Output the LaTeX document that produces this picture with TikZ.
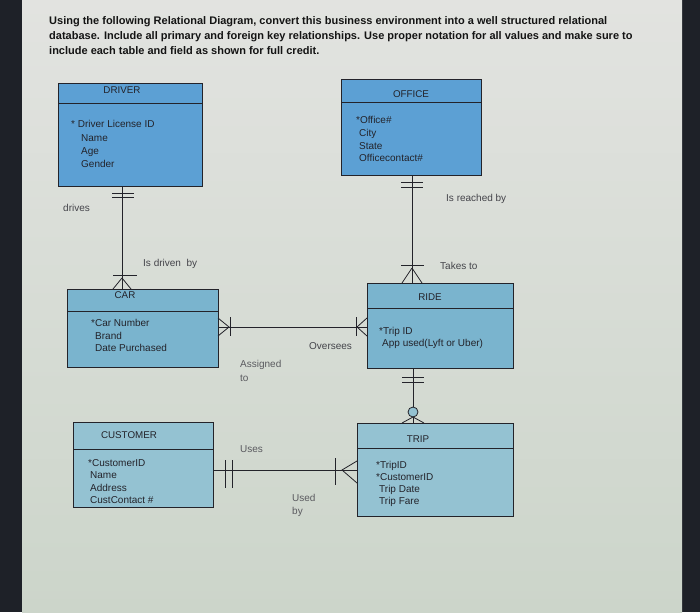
\documentclass[tikz,border=0pt]{standalone}
\usepackage{fontspec}
\setmainfont{Liberation Sans}
\definecolor{bezel}{RGB}{30,33,40}
\definecolor{scrtop}{RGB}{226,227,224}
\definecolor{scrbot}{RGB}{204,213,202}
\definecolor{drvblue}{RGB}{92,160,212}
\definecolor{carblue}{RGB}{122,180,206}
\definecolor{custblue}{RGB}{148,194,210}
\definecolor{ink}{RGB}{35,35,42}
\tikzset{
  entity/.style={draw=ink, line width=1pt, anchor=north west, inner sep=0pt},
  ttl/.style={font=\fontsize{9.8}{11}\selectfont, text=ink, inner sep=0pt},
  attrs/.style={font=\fontsize{10}{#1}\selectfont, text=ink, align=left, anchor=north west, inner sep=0pt},
  lbl/.style={font=\fontsize{10}{13.5}\selectfont, text=ink!85, align=left, anchor=west, inner sep=0pt},
  hdr/.style={font=\fontsize{11}{13}\selectfont\bfseries, text=black!92, anchor=base west, inner sep=0pt},
  rel/.style={draw=ink, line width=0.7pt},
  tick/.style={draw=ink, line width=0.8pt}
}
\begin{document}
\begin{tikzpicture}[x=1pt,y=-1pt]
\useasboundingbox (0,0) rectangle (700,612);
\fill[bezel] (0,0) rectangle (700,612);
\shade[top color=scrtop, bottom color=scrbot] (22,0) rectangle (682,612);

% header text
\node[hdr] (h1) at (49,25) {Using the following Relational Diagram, convert this business environment into a well structured relational};
\node[hdr] (h2) at (49,40) {database. Include all primary and foreign key relationships. Use proper notation for all values and make sure to};
\node[hdr] (h3) at (49,55) {include each table and field as shown for full credit.};

% entities
\node[entity, fill=drvblue, minimum width=144pt, minimum height=103pt] (driver) at (58,83) {};
\draw[tick] ([yshift=-20pt]driver.north west) -- ([yshift=-20pt]driver.north east);
\node[ttl] (driverT) at (122,90) {DRIVER};
\node[attrs=13.3] (driverA) at (71,120.4) {* Driver License ID\\ \hspace*{10pt}Name\\ \hspace*{10pt}Age\\ \hspace*{10pt}Gender};

\node[entity, fill=drvblue, minimum width=140pt, minimum height=96pt] (office) at (341,79) {};
\draw[tick] ([yshift=-23pt]office.north west) -- ([yshift=-23pt]office.north east);
\node[ttl] (officeT) at (411,94) {OFFICE};
\node[attrs=12.7] (officeA) at (356,116.4) {*Office\#\\ \hspace*{3pt}City\\ \hspace*{3pt}State\\ \hspace*{3pt}Officecontact\#};

\node[entity, fill=carblue, minimum width=151pt, minimum height=78pt] (car) at (67,289) {};
\draw[tick] ([yshift=-22pt]car.north west) -- ([yshift=-22pt]car.north east);
\node[ttl] (carT) at (125,295) {CAR};
\node[attrs=12.5] (carA) at (91,319.4) {*Car Number\\ \hspace*{4pt}Brand\\ \hspace*{4pt}Date Purchased};

\node[entity, fill=carblue, minimum width=146pt, minimum height=85pt] (ride) at (367,283) {};
\draw[tick] ([yshift=-25pt]ride.north west) -- ([yshift=-25pt]ride.north east);
\node[ttl] (rideT) at (430,297) {RIDE};
\node[attrs=12] (rideA) at (379,327.4) {*Trip ID\\ \hspace*{3pt}App used(Lyft or Uber)};

\node[entity, fill=custblue, minimum width=140pt, minimum height=85pt] (cust) at (73,422) {};
\draw[tick] ([yshift=-27pt]cust.north west) -- ([yshift=-27pt]cust.north east);
\node[ttl] (custT) at (129,435) {CUSTOMER};
\node[attrs=12.4] (custA) at (88,459.4) {*CustomerID\\ \hspace*{2pt}Name\\ \hspace*{2pt}Address\\ \hspace*{2pt}CustContact \#};

\node[entity, fill=custblue, minimum width=156pt, minimum height=93pt] (trip) at (357,423) {};
\draw[tick] ([yshift=-25pt]trip.north west) -- ([yshift=-25pt]trip.north east);
\node[ttl] (tripT) at (418,439) {TRIP};
\node[attrs=12] (tripA) at (376,461.4) {*TripID\\ *CustomerID\\ \hspace*{3pt}Trip Date\\ \hspace*{3pt}Trip Fare};

% DRIVER -- CAR
\coordinate (xa) at (122,0);
\draw[rel] (driver.south -| xa) -- (car.north -| xa);
\draw[tick] (112,193) -- (134,193);
\draw[tick] (112,197) -- (134,197);
\draw[tick] (113,275) -- (137,275);
\draw[tick] (122,278) -- (113,289);
\draw[tick] (122,278) -- (122,289);
\draw[tick] (122,278) -- (131,289);
\node[lbl] (drives) at (63,208) {drives};
\node[lbl] (isdriven) at (143,264) {Is driven\ \ by};

% OFFICE -- RIDE
\coordinate (xb) at (412,0);
\draw[rel] (office.south -| xb) -- (ride.north -| xb);
\draw[tick] (401,182) -- (423,182);
\draw[tick] (401,187) -- (423,187);
\draw[tick] (401,265) -- (424,265);
\draw[tick] (412,268) -- (402,283);
\draw[tick] (412,268) -- (412,283);
\draw[tick] (412,268) -- (422,283);
\node[lbl] (reached) at (446,199) {Is reached by};
\node[lbl] (takes) at (440,266) {Takes to};

% CAR -- RIDE
\coordinate (ya) at (0,327);
\draw[rel] (car.east |- ya) -- (ride.west |- ya);
\draw[tick] (218,318) -- (229,327) -- (218,336);
\draw[tick] (230,317) -- (230,336);
\draw[tick] (356,317) -- (356,336);
\draw[tick] (367,318) -- (357,327) -- (367,336);
\node[lbl] (oversees) at (309,346) {Oversees};
\node[lbl, text=ink!75] (assigned) at (240,371) {Assigned\\to};

% RIDE -- TRIP
\coordinate (xc) at (413,0);
\draw[rel] (ride.south -| xc) -- (trip.north -| xc);
\draw[tick] (402,377) -- (424,377);
\draw[tick] (402,382) -- (424,382);
\draw[tick, fill=custblue] (413,412) circle (5pt);
\draw[tick] (413,417) -- (402,423);
\draw[tick] (413,417) -- (413,423);
\draw[tick] (413,417) -- (424,423);

% CUSTOMER -- TRIP
\coordinate (yb) at (0,470);
\draw[rel] (cust.east |- yb) -- (trip.west |- yb);
\draw[tick] (225,460) -- (225,488);
\draw[tick] (232,460) -- (232,488);
\draw[tick] (335,458) -- (335,485);
\draw[tick] (357,461) -- (342,470) -- (357,483);
\node[lbl, text=ink!75] (uses) at (240,449) {Uses};
\node[lbl, text=ink!75] (usedby) at (292,505.5) {Used\\by};
\end{tikzpicture}
\end{document}
